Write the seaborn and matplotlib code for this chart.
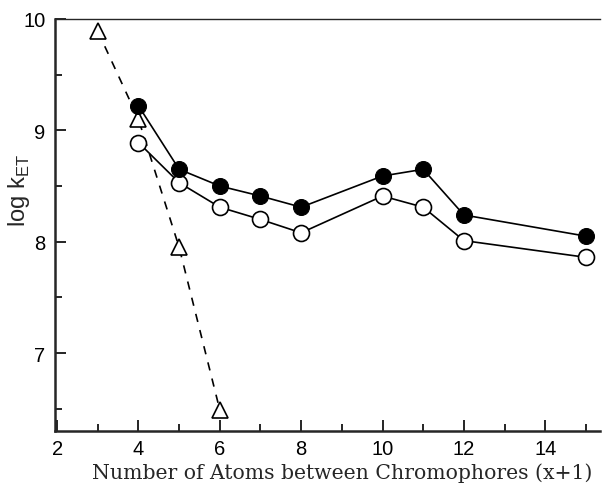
import numpy as np
import pandas as pd
import matplotlib
matplotlib.use("Agg")
import matplotlib.pyplot as plt
import seaborn as sns
from matplotlib.ticker import MultipleLocator

sns.set_style("ticks")
plt.rcParams["font.family"] = ["Liberation Sans", "DejaVu Sans"]

# data
atoms = [4, 5, 6, 7, 8, 10, 11, 12, 15]
log_k_filled = [9.22, 8.65, 8.50, 8.41, 8.31, 8.59, 8.65, 8.24, 8.05]
log_k_open = [8.89, 8.53, 8.31, 8.20, 8.08, 8.41, 8.31, 8.01, 7.86]

atoms_tri = [3, 4, 5, 6]
log_k_tri = [9.89, 9.10, 7.95, 6.49]

df_filled = pd.DataFrame({"x": atoms, "y": log_k_filled})
df_open = pd.DataFrame({"x": atoms, "y": log_k_open})
df_tri = pd.DataFrame({"x": atoms_tri, "y": log_k_tri})

fig = plt.figure(figsize=(6.05, 4.85), dpi=100)
ax = fig.add_axes([0.091, 0.109, 0.901, 0.850])

sns.lineplot(data=df_tri, x="x", y="y", ax=ax, color="black", linewidth=1.2,
             linestyle=(0, (5, 5)), marker="^", markersize=11,
             markerfacecolor="white", markeredgecolor="black",
             markeredgewidth=1.2, zorder=2)
sns.lineplot(data=df_open, x="x", y="y", ax=ax, color="black", linewidth=1.2,
             marker="o", markersize=11.5, markerfacecolor="white",
             markeredgecolor="black", markeredgewidth=1.2, zorder=3)
sns.lineplot(data=df_filled, x="x", y="y", ax=ax, color="black", linewidth=1.2,
             marker="o", markersize=11.5, markerfacecolor="black",
             markeredgecolor="black", zorder=4)

ax.set_xlim(1.95, 15.35)
ax.set_ylim(6.3, 10)

ax.xaxis.set_major_locator(MultipleLocator(2))
ax.xaxis.set_minor_locator(MultipleLocator(1))
ax.yaxis.set_major_locator(MultipleLocator(1))
ax.yaxis.set_minor_locator(MultipleLocator(0.5))
ax.tick_params(which="both", direction="in", colors="black", labelsize=14.5)
ax.tick_params(which="major", length=8, width=1.2)
ax.tick_params(which="minor", length=5, width=1.2)
ax.tick_params(axis="x", pad=6)
ax.tick_params(axis="y", pad=7)
ax.set_xticks([2, 4, 6, 8, 10, 12, 14])
ax.set_yticks([7, 8, 9, 10])
ax.set_yticklabels(["7", "8", "9", "10"])

for side in ["left", "bottom"]:
    ax.spines[side].set_linewidth(1.8)
ax.spines["top"].set_visible(True)
ax.spines["top"].set_linewidth(1.0)
ax.spines["right"].set_visible(False)

ax.set_xlabel("Number of Atoms between Chromophores (x+1)",
              family=["DejaVu Serif"], fontsize=14.7)
ax.xaxis.set_label_coords(0.527, -0.075)
ax.set_ylabel(r"log k$_{\mathregular{ET}}$", fontsize=17)
ax.yaxis.set_label_coords(-0.042, 0.585)

fig.savefig("out.png", dpi=100)
